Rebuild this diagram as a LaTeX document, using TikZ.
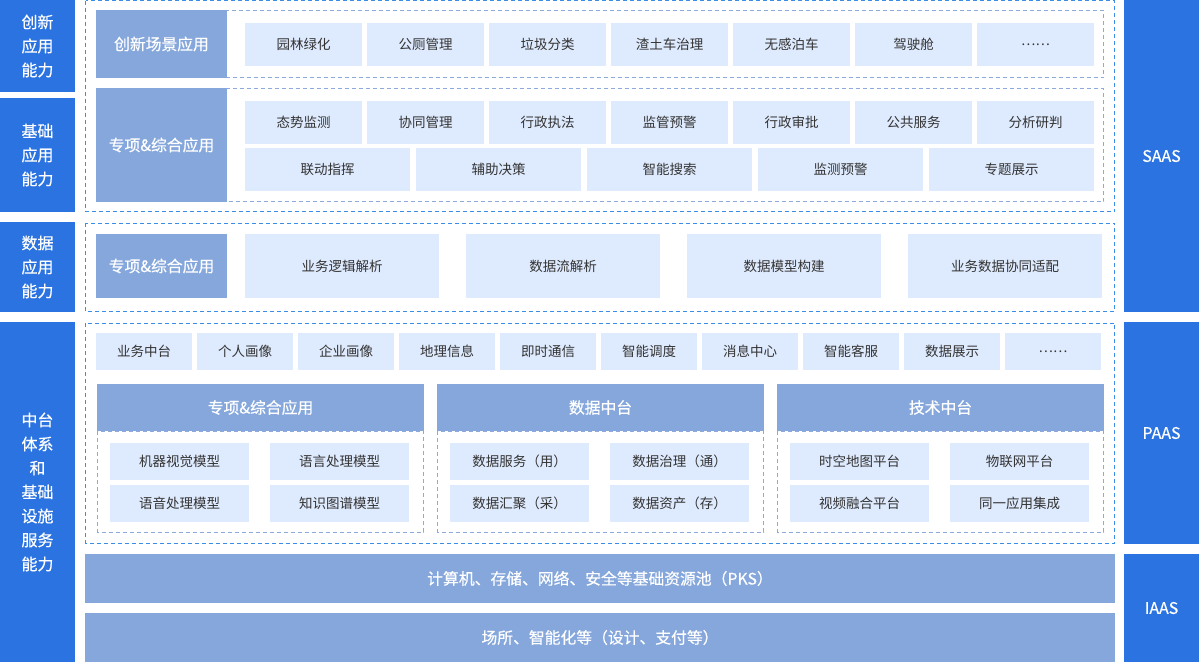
\documentclass[tikz,border=0pt]{standalone}
\usepackage{fontspec}
\setmainfont{Noto Sans CJK SC}
\newfontfamily\medfont[FakeBold=0.4]{Noto Sans CJK SC}
\definecolor{dblue}{HTML}{2B73E1}
\definecolor{hdr}{HTML}{85A7DC}
\definecolor{itm}{HTML}{DEEAFD}
\definecolor{itxt}{HTML}{333333}
\definecolor{odash}{HTML}{3A8EE6}
\definecolor{idash}{HTML}{8DAADB}
\tikzset{
  base/.style={anchor=north west, inner sep=0pt, outer sep=0pt, draw=none},
  side/.style={base, fill=dblue, text=white, align=center, font=\medfont\fontsize{16}{24}\selectfont},
  hbox/.style={base, fill=hdr, text=white, font=\medfont\fontsize{15.8}{18}\selectfont},
  ibox/.style={base, fill=itm, text=itxt, font=\fontsize{13.5}{16}\selectfont},
  odashed/.style={draw=odash, line width=1pt, dash pattern=on 4pt off 3pt},
  idashed/.style={draw=idash, line width=1pt, dash pattern=on 4pt off 3pt},
}
% \bx{style}{name}{x}{y}{w}{h}{text}
\newcommand{\bx}[7]{\node[#1, minimum width=#5pt, minimum height=#6pt] (#2) at ({#3},{#4}) {#7};}
\newcommand{\pnl}[7]{%
  \draw[idashed] ({#2+0.5},431) rectangle ({#2+326.5},532);
  \bx{hbox}{#1h}{#2}{384}{327}{47}{#3}
  \bx{ibox}{#1a}{#2+13}{443}{139}{37}{#4}
  \bx{ibox}{#1b}{#2+173}{443}{139}{37}{#5}
  \bx{ibox}{#1c}{#2+13}{485}{139}{37}{#6}
  \bx{ibox}{#1d}{#2+173}{485}{139}{37}{#7}
}
\begin{document}
\begin{tikzpicture}[x=1pt,y=-1pt]
\useasboundingbox (0,0) rectangle (1199,662);
% left column
\bx{side}{L1}{0}{0}{75}{92}{创新\\应用\\能力}
\bx{side}{L2}{0}{98}{75}{114}{基础\\应用\\能力}
\bx{side}{L3}{0}{222}{75}{90}{数据\\应用\\能力}
\bx{side}{L4}{0}{322}{75}{340}{中台\\体系\\和\\基础\\设施\\服务\\能力}
% right column
\bx{side}{R1}{1124}{0}{75}{312}{SAAS}
\bx{side}{R2}{1124}{322}{75}{222}{PAAS}
\bx{side}{R3}{1124}{554}{75}{108}{IAAS}
% outer dashed frames
\draw[odashed] (85.5,0.5) rectangle (1114.5,211.5);
\draw[odashed] (85.5,223) rectangle (1114.5,311.5);
\draw[odashed] (85.5,323) rectangle (1114.5,543);
% innovation
\draw[idashed] (96.5,10.5) rectangle (1103.5,77.5);
\bx{hbox}{H1}{96}{10}{131}{68}{创新场景应用}
\foreach \t [count=\i] in {园林绿化,公厕管理,垃圾分类,渣土车治理,无感泊车,驾驶舱,……}
  {\bx{ibox}{a\i}{245+(\i-1)*122}{23}{117}{43}{\t}}
% basic
\draw[idashed] (96.5,88.5) rectangle (1103.5,201.5);
\bx{hbox}{H2}{96}{88}{131}{114}{专项\&综合应用}
\foreach \t [count=\i] in {态势监测,协同管理,行政执法,监管预警,行政审批,公共服务,分析研判}
  {\bx{ibox}{b\i}{245+(\i-1)*122}{101}{117}{43}{\t}}
\foreach \t [count=\i] in {联动指挥,辅助决策,智能搜索,监测预警,专题展示}
  {\bx{ibox}{c\i}{245+(\i-1)*171}{148}{165}{43}{\t}}
% data
\bx{hbox}{H3}{96}{234}{131}{64}{专项\&综合应用}
\foreach \t [count=\i] in {业务逻辑解析,数据流解析,数据模型构建,业务数据协同适配}
  {\bx{ibox}{d\i}{245+(\i-1)*221}{234}{194}{64}{\t}}
% middle platform
\foreach \t [count=\i] in {业务中台,个人画像,企业画像,地理信息,即时通信,智能调度,消息中心,智能客服,数据展示,……}
  {\bx{ibox}{m\i}{96+(\i-1)*101}{333}{96}{37}{\t}}
\pnl{p}{97}{专项\&综合应用}{机器视觉模型}{语言处理模型}{语音处理模型}{知识图谱模型}
\pnl{q}{437}{数据中台}{数据服务（用）}{数据治理（通）}{数据汇聚（采）}{数据资产（存）}
\pnl{r}{777}{技术中台}{时空地图平台}{物联网平台}{视频融合平台}{同一应用集成}
% bottom bars
\bx{hbox}{B1}{85}{554}{1030}{49}{计算机、存储、网络、安全等基础资源池（PKS）}
\bx{hbox}{B2}{85}{613}{1030}{49}{场所、智能化等（设计、支付等）}
\end{tikzpicture}
\end{document}
